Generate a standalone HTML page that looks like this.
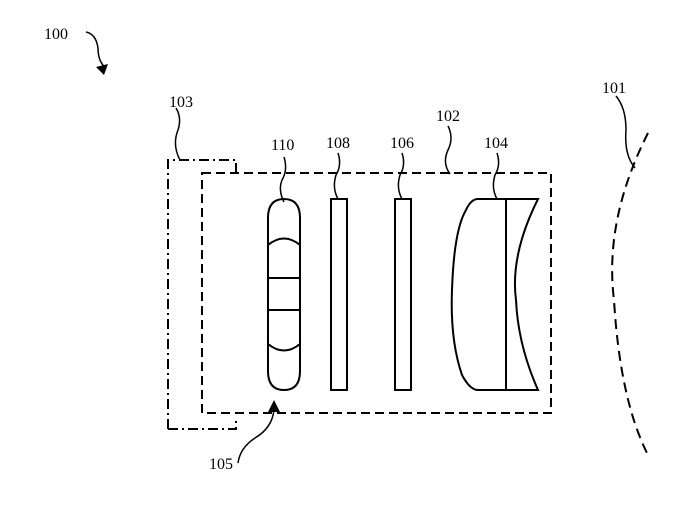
<!DOCTYPE html>
<html><head><style>body{margin:0;background:#fff}svg{display:block}text{font-family:"Liberation Serif",serif;font-size:16px;fill:#000}</style></head>
<body>
<svg width="694" height="520" viewBox="0 0 694 520" fill="none" stroke="#000" stroke-width="2">
<path d="M168,429 V160 H236 V173 M168,429 H236 V417" stroke-dasharray="10,4,2,4"/>
<rect x="202" y="173" width="349" height="240" stroke-dasharray="9,5"/>
<path d="M268,218 Q268,199 284,199 Q300,199 300,218 V371 Q300,390 284,390 Q268,390 268,371 Z"/>
<path d="M268,245 Q284,232 300,245"/>
<line x1="268" y1="278" x2="300" y2="278"/>
<line x1="268" y1="310" x2="300" y2="310"/>
<path d="M268,344 Q284,357 300,344"/>
<rect x="331" y="199" width="16" height="191"/>
<rect x="395" y="199" width="16" height="191"/>
<path d="M478,199 H538 Q510,255 516,300 Q518,345 538,390 H478 Q470,390 462,375 Q450,340 452,290 Q454,230 466,210 Q471,199 478,199 Z"/>
<line x1="506" y1="199" x2="506" y2="390"/>
<path d="M648,133 Q604,220 614,300 Q620,400 648,455" stroke-dasharray="10,6"/>
<g stroke-width="1.5">
<path d="M86,32 Q96,34 98,48 Q98,62 106,68"/>
<path d="M176,108 Q182,118 178,130 Q172,145 180,160"/>
<path d="M284,157 Q288,170 282,180 Q278,190 284,202"/>
<path d="M338,153 Q342,165 336,175 Q332,188 338,199"/>
<path d="M402,153 Q406,165 400,175 Q396,188 402,199"/>
<path d="M448,126 Q454,138 448,150 Q442,163 450,174"/>
<path d="M497,153 Q501,165 495,175 Q491,188 497,199"/>
<path d="M616,96 Q626,108 626,130 Q624,155 635,168"/>
<path d="M238,463 Q240,448 255,438 Q272,428 274,410"/>
</g>
<polygon points="96,67 108,64 104,75" fill="#000" stroke="none"/>
<polygon points="274,400 268,412 280,412" fill="#000" stroke="none"/>
<g stroke="none">
<text x="44" y="39">100</text>
<text x="169" y="107">103</text>
<text x="271" y="150">110</text>
<text x="326" y="148">108</text>
<text x="390" y="148">106</text>
<text x="436" y="121">102</text>
<text x="484" y="148">104</text>
<text x="602" y="93">101</text>
<text x="209" y="469">105</text>
</g>
</svg>
</body></html>
